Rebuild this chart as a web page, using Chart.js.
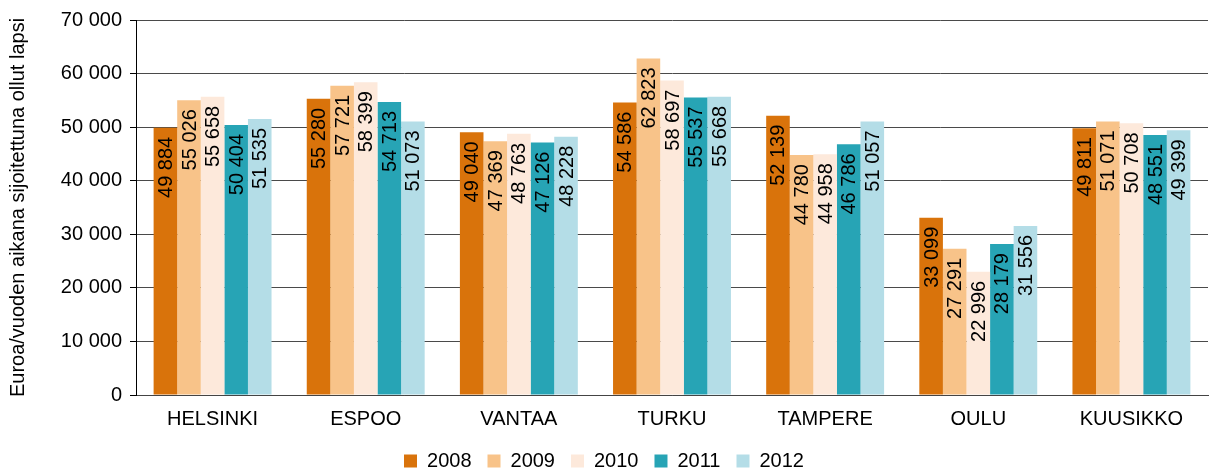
<!DOCTYPE html>
<html>
<head>
<meta charset="utf-8">
<script src="https://cdn.jsdelivr.net/npm/chart.js@4/dist/chart.umd.min.js"></script>
<style>
html,body{margin:0;padding:0;background:#fff;}
#wrap{width:1209px;height:473px;position:relative;}
</style>
</head>
<body>
<div id="wrap"><canvas id="c" width="1209" height="473"></canvas></div>
<script>
const categories = ["HELSINKI","ESPOO","VANTAA","TURKU","TAMPERE","OULU","KUUSIKKO"];
const years = ["2008","2009","2010","2011","2012"];
const v2008 = [49884, 55280, 49040, 54586, 52139, 33099, 49811];
const v2009 = [55026, 57721, 47369, 62823, 44780, 27291, 51071];
const v2010 = [55658, 58399, 48763, 58697, 44958, 22996, 50708];
const v2011 = [50404, 54713, 47126, 55537, 46786, 28179, 48551];
const v2012 = [51535, 51073, 48228, 55668, 51057, 31556, 49399];
const colors = ["#D9730B", "#F8C389", "#FDE9DB", "#27A4B5", "#B4DDE7"];
const yTitle = "Euroa/vuoden aikana sijoitettuna ollut lapsi";

const fmt = v => String(v).replace(/\B(?=(\d{3})+(?!\d))/g, ' ');
const series = [v2008, v2009, v2010, v2011, v2012];
const FONT = '"Liberation Sans", Arial, sans-serif';

const labelPlugin = {
  id: 'vlabels',
  afterDatasetsDraw(chart) {
    const ctx = chart.ctx;
    ctx.save();
    ctx.font = '20px ' + FONT;
    ctx.fillStyle = '#000';
    ctx.textAlign = 'right';
    ctx.textBaseline = 'middle';
    chart.data.datasets.forEach((ds, di) => {
      const meta = chart.getDatasetMeta(di);
      meta.data.forEach((bar, i) => {
        ctx.save();
        ctx.translate(bar.x + 1, bar.y + 9);
        ctx.rotate(-Math.PI / 2);
        ctx.fillText(fmt(ds.data[i]), 0, 0);
        ctx.restore();
      });
    });
    ctx.restore();
  }
};

new Chart(document.getElementById('c'), {
  type: 'bar',
  data: {
    labels: categories,
    datasets: years.map((y, i) => ({
      label: y,
      data: series[i],
      backgroundColor: colors[i],
      borderWidth: 0,
      categoryPercentage: 0.77,
      barPercentage: 1.0
    }))
  },
  options: {
    responsive: false,
    animation: false,
    layout: { padding: { top: 17, right: 1, left: 0, bottom: -8 } },
    plugins: {
      legend: {
        position: 'bottom',
        labels: {
          boxWidth: 13, boxHeight: 13, padding: 16,
          color: '#000',
          font: { family: FONT, size: 20, lineHeight: 1 }
        }
      },
      tooltip: { enabled: false }
    },
    scales: {
      x: {
        grid: { display: false },
        border: { display: true, color: '#444', width: 1 },
        ticks: { color: '#000', padding: 6, font: { family: FONT, size: 20, lineHeight: 1 } }
      },
      y: {
        min: 0, max: 70000,
        afterFit: s => { s.width = 136; },
        grid: { color: '#4a4a4a', lineWidth: 1, drawTicks: true, tickLength: 6, tickColor: '#000' },
        border: { display: true, color: '#000', width: 1 },
        ticks: {
          stepSize: 10000, color: '#000', padding: 8,
          font: { family: FONT, size: 20 },
          callback: v => fmt(v)
        },
        title: {
          display: true, text: yTitle, color: '#000',
          padding: { top: 6, bottom: 0 },
          font: { family: FONT, size: 20 }
        }
      }
    }
  },
  plugins: [labelPlugin]
});
</script>
</body>
</html>
